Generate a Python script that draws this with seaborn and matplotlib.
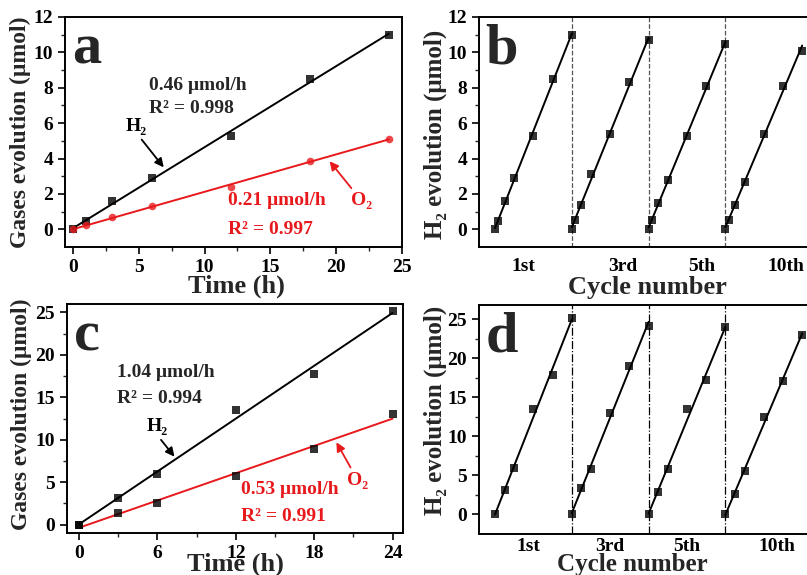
import numpy as np
import pandas as pd
import matplotlib
matplotlib.use("Agg")
import matplotlib.pyplot as plt
import seaborn as sns

# ---------------- data ----------------
time_a = [0, 1, 3, 6, 12, 18, 24]
h2_a = [0, 0.46, 1.58, 2.9, 5.3, 8.5, 11.0]
o2_a = [0, 0.22, 0.7, 1.3, 2.38, 3.85, 5.12]

time_c = [0, 3, 6, 12, 18, 24]
h2_c = [0, 3.1, 6.0, 13.5, 17.8, 25.2]
o2_c = [0, 1.4, 2.5, 5.7, 8.9, 13.0]

cycle_labels = ["1st", "3rd", "5th", "10th"]
cycles_b = [
    [0, 0.46, 1.6, 2.9, 5.3, 8.5, 11.0],
    [0, 0.5, 1.4, 3.1, 5.4, 8.3, 10.7],
    [0, 0.5, 1.5, 2.8, 5.3, 8.1, 10.5],
    [0, 0.5, 1.4, 2.7, 5.4, 8.1, 10.1],
]
cycles_d = [
    [0, 3.1, 5.9, 13.5, 17.8, 25.2],
    [0, 3.4, 5.8, 13.0, 19.0, 24.1],
    [0, 2.9, 5.8, 13.5, 17.2, 24.0],
    [0, 2.6, 5.5, 12.5, 17.1, 23.0],
]
cycle_len = 24
label_pos_b = [9, 40, 64.7, 91]
label_pos_d = [10.3, 36, 60, 88]

# ---------------- style ----------------
sns.set_style("ticks")
plt.rcParams['font.family'] = ['Liberation Serif', 'DejaVu Serif']
plt.rcParams['font.weight'] = 'bold'
plt.rcParams['axes.labelweight'] = 'bold'
plt.rcParams['axes.linewidth'] = 1.4
plt.rcParams['xtick.direction'] = 'out'
plt.rcParams['ytick.direction'] = 'out'

W, H = 807, 575
fig = plt.figure(figsize=(W / 100, H / 100), dpi=100)


def add_ax(l, t, r, b):
    return fig.add_axes([l / W, 1 - b / H, (r - l) / W, (b - t) / H])


ax_a = add_ax(65, 17, 402, 247)
ax_b = add_ax(479, 17, 815, 247)
ax_c = add_ax(67, 304, 403, 533)
ax_d = add_ax(479, 305, 815, 534)

RED = '#e8191c'
tick_fs = 14
xlab_fs = 19
txt_fs = 14


def style_axis(ax):
    for s in ax.spines.values():
        s.set_visible(True)
        s.set_linewidth(1.4)
        s.set_color('black')
    ax.tick_params(axis='both', which='major', length=5, width=1.2,
                   labelsize=tick_fs, colors='black')
    ax.tick_params(axis='both', which='minor', length=3, width=1.0)
    for lab in ax.get_xticklabels() + ax.get_yticklabels():
        lab.set_fontweight('bold')


def fit_plot(ax, x, y, color, marker, mcolor, ms=40):
    sns.regplot(x=np.array(x, float), y=np.array(y, float), ax=ax, ci=None,
                marker=marker, color=color,
                scatter_kws=dict(s=ms, color=mcolor, zorder=3, linewidths=0),
                line_kws=dict(lw=1.4, color=color))


def arrow_label(ax, text, tip, pos, color, relpos):
    ax.annotate(text, xy=tip, xytext=pos, fontsize=txt_fs, fontweight='bold',
                ha='center', va='center', color=color,
                arrowprops=dict(arrowstyle='-|>', color=color, lw=1.3, shrinkA=1, shrinkB=0,
                                mutation_scale=13, relpos=relpos))


# ---------------- panel a ----------------
fit_plot(ax_a, time_a, h2_a, 'black', 's', 'black', 30)
fit_plot(ax_a, time_a, o2_a, RED, 'o', RED, 30)
ax_a.set_xlim(-0.6, 25.0)
ax_a.set_ylim(-1, 12)
ax_a.set_xticks([0, 5, 10, 15, 20, 25])
ax_a.set_xticks(np.arange(2.5, 25, 5), minor=True)
ax_a.set_yticks(range(0, 13, 2))
ax_a.set_yticks(range(1, 12, 2), minor=True)
ax_a.set_xlabel("Time (h)", fontsize=xlab_fs, fontweight='bold')
ax_a.set_ylabel("Gases evolution (μmol)", fontsize=17, fontweight='bold')
ax_a.xaxis.set_label_coords(0.51, -0.12)
ax_a.yaxis.set_label_coords(-0.1, 0.5)
style_axis(ax_a)
ax_a.text(0.02, 0.97, "a", transform=ax_a.transAxes, fontsize=42, fontweight='bold',
          va='top', ha='left')
ax_a.text(5.8, 8.1, "0.46 μmol/h", fontsize=txt_fs, fontweight='bold', va='center')
ax_a.text(5.8, 6.85, "R² = 0.998", fontsize=txt_fs, fontweight='bold', va='center')
arrow_label(ax_a, "H₂", (6.9, 3.5), (4.8, 5.8), 'black', (0.6, 0.0))
ax_a.text(11.8, 1.6, "0.21 μmol/h", fontsize=txt_fs, fontweight='bold', va='center', color=RED)
ax_a.text(11.8, 0.0, "R² = 0.997", fontsize=txt_fs, fontweight='bold', va='center', color=RED)
arrow_label(ax_a, "O₂", (19.5, 3.85), (21.9, 1.6), RED, (0.2, 1.0))

# ---------------- panel c ----------------
fit_plot(ax_c, time_c, h2_c, 'black', 's', 'black', 30)
fit_plot(ax_c, time_c, o2_c, RED, 's', 'black', 30)
ax_c.set_xlim(-0.93, 24.8)
ax_c.set_ylim(-1, 26)
ax_c.set_xticks([0, 6, 12, 18, 24])
ax_c.set_xticks([3, 9, 15, 21], minor=True)
ax_c.set_yticks(range(0, 26, 5))
ax_c.set_yticks(np.arange(2.5, 25, 5), minor=True)
ax_c.set_xlabel("Time (h)", fontsize=xlab_fs, fontweight='bold')
ax_c.set_ylabel("Gases evolution (μmol)", fontsize=17, fontweight='bold')
ax_c.xaxis.set_label_coords(0.5, -0.085)
ax_c.yaxis.set_label_coords(-0.105, 0.52)
style_axis(ax_c)
ax_c.text(0.02, 0.97, "c", transform=ax_c.transAxes, fontsize=42, fontweight='bold',
          va='top', ha='left')
ax_c.text(2.9, 17.9, "1.04 μmol/h", fontsize=txt_fs, fontweight='bold', va='center')
ax_c.text(2.9, 14.9, "R² = 0.994", fontsize=txt_fs, fontweight='bold', va='center')
arrow_label(ax_c, "H₂", (7.3, 8.0), (6.0, 11.5), 'black', (0.5, 0.0))
ax_c.text(12.4, 4.1, "0.53 μmol/h", fontsize=txt_fs, fontweight='bold', va='center', color=RED)
ax_c.text(12.4, 0.9, "R² = 0.991", fontsize=txt_fs, fontweight='bold', va='center', color=RED)
arrow_label(ax_c, "O₂", (19.7, 9.7), (21.3, 5.2), RED, (0.3, 1.0))


# ---------------- panels b, d ----------------
def cycle_panel(ax, cycles, times, ylim, yticks, yminor, lpos, ls, letter, tpad,
                xl_coords, yl_coords, xl_fs):
    for i, vals in enumerate(cycles):
        t = [tt + cycle_len * i for tt in times]
        fit_plot(ax, t, vals, 'black', 's', 'black', 28)
    for i in range(1, len(cycles)):
        ax.axvline(cycle_len * i, color='#555555' if ls == '--' else 'black',
                   lw=0.9, ls=ls, zorder=1)
    ax.set_xlim(-5, 100)
    ax.set_ylim(*ylim)
    ax.set_yticks(yticks)
    ax.set_yticks(yminor, minor=True)
    ax.set_xticks(lpos)
    ax.set_xticklabels(cycle_labels)
    ax.set_xlabel("Cycle number", fontsize=xl_fs, fontweight='bold')
    ax.set_ylabel("H₂ evolution (μmol)", fontsize=18, fontweight='bold')
    ax.xaxis.set_label_coords(*xl_coords)
    ax.yaxis.set_label_coords(*yl_coords)
    style_axis(ax)
    ax.tick_params(axis='x', which='both', length=0, pad=tpad)
    ax.text(0.02, 0.97, letter, transform=ax.transAxes, fontsize=42, fontweight='bold',
            va='top', ha='left')


cycle_panel(ax_b, cycles_b, time_a, (-1, 12), range(0, 13, 2), range(1, 12, 2),
            label_pos_b, '--', 'b', 8, (0.5, -0.125), (-0.095, 0.49), xlab_fs)
cycle_panel(ax_d, cycles_d, time_c, (-2.5, 26.8), range(0, 26, 5), np.arange(2.5, 25, 5),
            label_pos_d, '-.', 'd', 3, (0.455, -0.085), (-0.095, 0.54), 18)

fig.savefig("out.png", dpi=100)
